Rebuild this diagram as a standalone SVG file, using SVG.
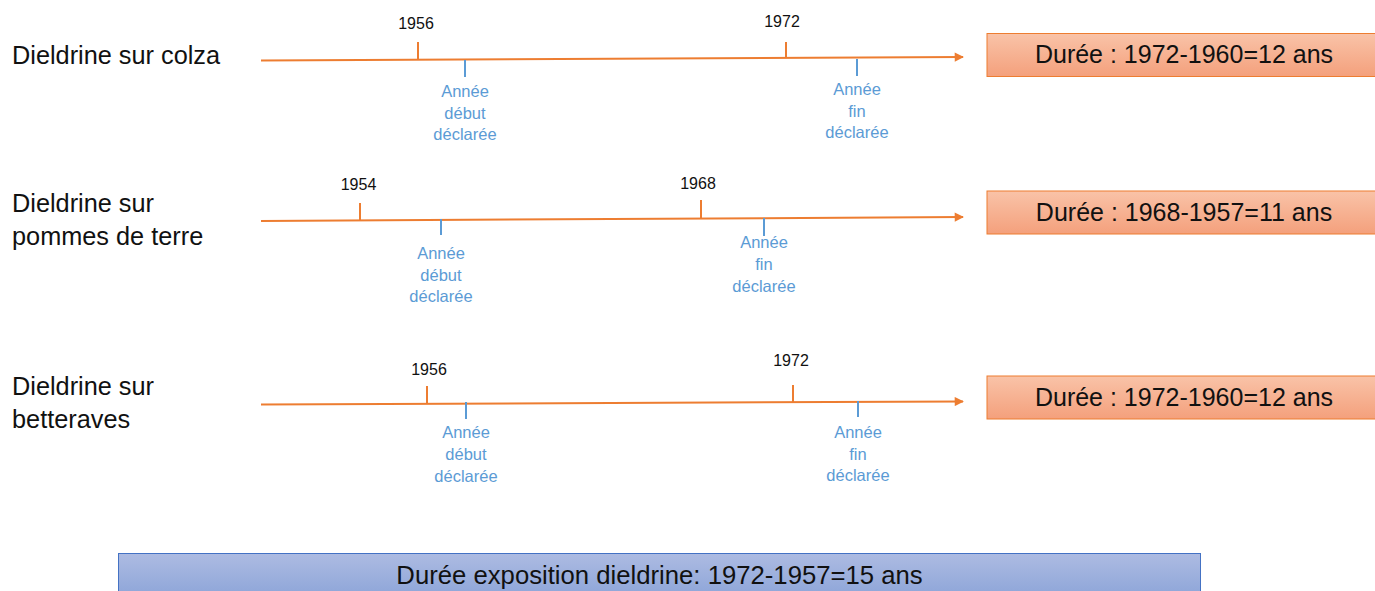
<svg xmlns="http://www.w3.org/2000/svg" width="1375" height="591" viewBox="0 0 1375 591">
  <defs>
    <linearGradient id="gOrange" x1="0" y1="0" x2="0" y2="1">
      <stop offset="0" stop-color="#f9c3a8"/>
      <stop offset="1" stop-color="#f4a07c"/>
    </linearGradient>
    <linearGradient id="gBlue" x1="0" y1="0" x2="0" y2="1">
      <stop offset="0" stop-color="#adbbe2"/>
      <stop offset="1" stop-color="#8ca4d8"/>
    </linearGradient>
    <marker id="arr" viewBox="0 0 10 10" refX="9" refY="5" markerWidth="5.5" markerHeight="4.6" orient="auto" markerUnits="strokeWidth">
      <path d="M0,0 L10,5 L0,10 z" fill="#ed7d31"/>
    </marker>
  </defs>
  <style>
    .axis { stroke: #ed7d31; stroke-width: 2; fill: none; }
    .otick { stroke: #ed7d31; stroke-width: 2; }
    .btick { stroke: #5b9bd5; stroke-width: 2; }
    .year { font-family: "Liberation Sans", Arial, sans-serif; font-size: 16px; fill: #111; text-anchor: middle; }
    .blab { font-family: "Liberation Sans", Arial, sans-serif; font-size: 16.5px; fill: #5b9bd5; text-anchor: middle; }
    .row { font-family: "Liberation Sans", Arial, sans-serif; font-size: 25.3px; fill: #111; }
    .obox { fill: url(#gOrange); stroke: #ed7d31; stroke-width: 1; }
    .bbox { fill: url(#gBlue); stroke: #4472c4; stroke-width: 1; }
    .btxt { font-family: "Liberation Sans", Arial, sans-serif; font-size: 25px; fill: #111; text-anchor: middle; }
    .btxt2 { font-family: "Liberation Sans", Arial, sans-serif; font-size: 25.7px; fill: #111; text-anchor: middle; }
  </style>

  <g id="connectors">
    <line class="axis" x1="261" y1="60.5" x2="963" y2="57" marker-end="url(#arr)"/>
    <line class="axis" x1="261" y1="221" x2="963" y2="217" marker-end="url(#arr)"/>
    <line class="axis" x1="261" y1="404.5" x2="963" y2="401.5" marker-end="url(#arr)"/>
  </g>

  <g id="row1">
    <text class="row" x="12" y="64">Dieldrine sur colza</text>
    <line class="otick" x1="418" y1="42" x2="418" y2="60"/>
    <text class="year" x="416" y="29">1956</text>
    <line class="btick" x1="465" y1="60" x2="465" y2="77"/>
    <text class="blab" x="465" y="97">Année</text>
    <text class="blab" x="465" y="118.5">début</text>
    <text class="blab" x="465" y="140">déclarée</text>
    <line class="otick" x1="786" y1="42" x2="786" y2="58"/>
    <text class="year" x="782" y="27">1972</text>
    <line class="btick" x1="857" y1="59" x2="857" y2="76"/>
    <text class="blab" x="857" y="95">Année</text>
    <text class="blab" x="857" y="117">fin</text>
    <text class="blab" x="857" y="138">déclarée</text>
  </g>
  <g id="box1">
    <rect class="obox" x="987" y="33.5" width="395" height="43"/>
    <text class="btxt" x="1184" y="63">Durée : 1972-1960=12 ans</text>
  </g>

  <g id="row2">
    <text class="row" x="12" y="212">Dieldrine sur</text>
    <text class="row" x="12" y="245">pommes de terre</text>
    <line class="otick" x1="360" y1="203" x2="360" y2="220"/>
    <text class="year" x="358.5" y="190">1954</text>
    <line class="btick" x1="441" y1="219" x2="441" y2="235"/>
    <text class="blab" x="441" y="259">Année</text>
    <text class="blab" x="441" y="280.5">début</text>
    <text class="blab" x="441" y="302">déclarée</text>
    <line class="otick" x1="701" y1="200" x2="701" y2="218"/>
    <text class="year" x="698" y="189">1968</text>
    <line class="btick" x1="764" y1="218" x2="764" y2="236"/>
    <text class="blab" x="764" y="248">Année</text>
    <text class="blab" x="764" y="270">fin</text>
    <text class="blab" x="764" y="292">déclarée</text>
  </g>
  <g id="box2">
    <rect class="obox" x="987" y="191" width="395" height="43"/>
    <text class="btxt" x="1184" y="221">Durée : 1968-1957=11 ans</text>
  </g>

  <g id="row3">
    <text class="row" x="12" y="395">Dieldrine sur</text>
    <text class="row" x="12" y="428">betteraves</text>
    <line class="otick" x1="427" y1="386" x2="427" y2="403"/>
    <text class="year" x="429" y="375">1956</text>
    <line class="btick" x1="466" y1="402" x2="466" y2="419"/>
    <text class="blab" x="466" y="437.5">Année</text>
    <text class="blab" x="466" y="459.5">début</text>
    <text class="blab" x="466" y="481.5">déclarée</text>
    <line class="otick" x1="793" y1="385" x2="793" y2="402"/>
    <text class="year" x="791" y="366">1972</text>
    <line class="btick" x1="858" y1="401" x2="858" y2="417"/>
    <text class="blab" x="858" y="438">Année</text>
    <text class="blab" x="858" y="459.5">fin</text>
    <text class="blab" x="858" y="481">déclarée</text>
  </g>
  <g id="box3">
    <rect class="obox" x="987" y="376" width="395" height="43"/>
    <text class="btxt" x="1184" y="406">Durée : 1972-1960=12 ans</text>
  </g>

  <g id="total">
    <rect class="bbox" x="118.5" y="553.5" width="1082" height="45"/>
    <text class="btxt2" x="659.5" y="583.5">Durée exposition dieldrine: 1972-1957=15 ans</text>
  </g>
</svg>
